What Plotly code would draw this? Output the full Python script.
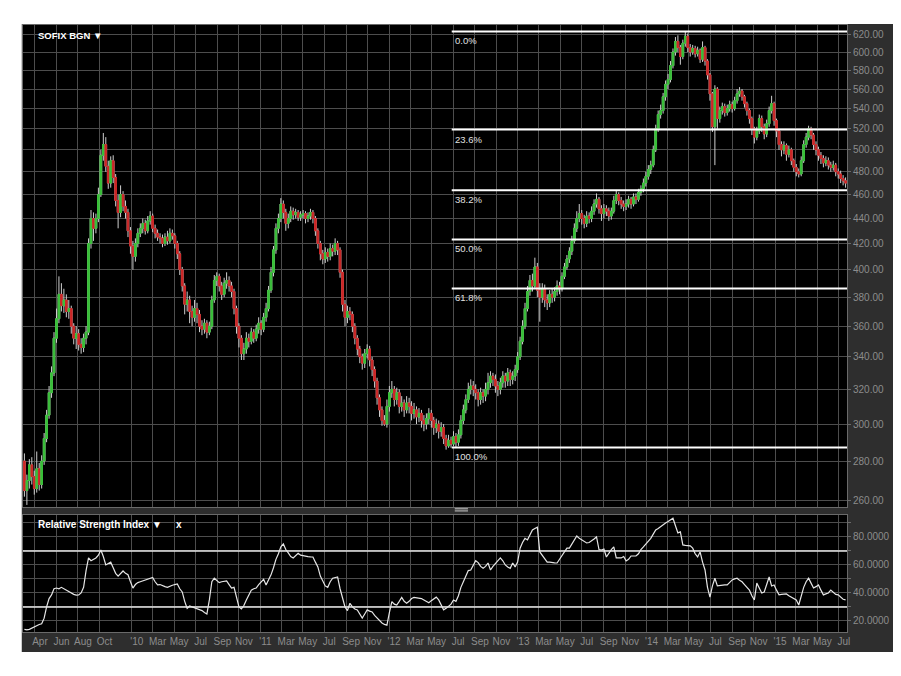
import math
import pandas as pd
import plotly.graph_objects as go

# ---------------- data (weekly candles, SOFIX BGN) ----------------
start_date = "2009-03-02"

open_ = [
    280, 265, 270, 278, 272, 266, 276, 268, 280, 292,
    305, 318, 330, 352, 365, 382, 374, 378, 370, 372,
    360, 352, 355, 348, 346, 352, 356, 420, 440, 432,
    440, 460, 495, 505, 485, 470, 490, 475, 455, 445,
    460, 450, 445, 430, 418, 410, 420, 428, 432, 436,
    430, 438, 442, 432, 428, 425, 424, 420, 425, 422,
    428, 426, 420, 412, 400, 388, 375, 378, 370, 366,
    372, 368, 360, 358, 362, 356, 360, 378, 392, 395,
    388, 382, 390, 392, 388, 384, 372, 360, 352, 342,
    345, 352, 350, 356, 352, 358, 362, 358, 366, 372,
    385, 398, 415, 432, 440, 452, 445, 436, 440, 446,
    443, 445, 441, 443, 444, 440, 442, 445, 440, 430,
    420, 412, 408, 413, 410, 416, 414, 420, 415, 398,
    375, 366, 370, 368, 360, 352, 345, 340, 336, 342,
    345, 338, 332, 325, 315, 308, 302, 300, 310, 318,
    320, 314, 318, 310, 312, 308, 312, 310, 306, 308,
    304, 306, 302, 300, 303, 306, 302, 298, 300, 296,
    298, 292, 288, 291, 289, 293, 290, 294, 302, 308,
    314, 320, 322, 320, 318, 314, 318, 316, 320, 324,
    328, 326, 322, 320, 324, 328, 325, 330, 326, 328,
    332, 340, 350, 360, 372, 384, 392, 388, 402, 385,
    380, 386, 378, 376, 382, 380, 384, 388, 386, 395,
    402, 408, 414, 422, 432, 440, 444, 440, 436, 442,
    440, 446, 452, 456, 448, 444, 448, 446, 442, 446,
    455, 460, 455, 452, 450, 452, 456, 452, 458, 456,
    462, 465, 470, 476, 482, 486, 500, 520, 534, 538,
    552, 565, 570, 585, 600, 612, 605, 595, 610, 618,
    605, 600, 604, 598, 602, 592, 605, 590, 575, 555,
    522, 560, 530, 538, 542, 536, 540, 544, 540, 548,
    555, 558, 552, 545, 538, 530, 520, 512, 518, 530,
    522, 515, 525, 538, 545, 528, 518, 505, 500, 504,
    496, 500, 490, 484, 480, 478, 490, 505, 512, 520,
    514, 505, 500, 495, 492, 488, 490, 486, 484, 486,
    480, 478, 474, 472,
]

high = [
    284, 273, 281, 282, 275, 285, 279, 283, 295, 308,
    322, 334, 356, 372, 395, 390, 386, 382, 378, 374,
    362, 360, 358, 352, 355, 360, 424, 447, 445, 444,
    466, 500, 516, 512, 490, 494, 495, 478, 460, 468,
    463, 455, 448, 433, 422, 424, 432, 436, 440, 439,
    442, 446, 444, 435, 431, 428, 427, 428, 430, 432,
    431, 428, 422, 414, 402, 390, 384, 381, 374, 378,
    376, 371, 364, 365, 364, 363, 381, 396, 398, 397,
    391, 394, 398, 395, 391, 386, 374, 362, 354, 349,
    356, 355, 359, 358, 361, 366, 364, 369, 376, 388,
    402, 418, 436, 444, 457, 455, 448, 444, 450, 449,
    448, 447, 446, 447, 446, 445, 448, 447, 442, 432,
    422, 415, 417, 416, 420, 419, 424, 422, 417, 400,
    378, 374, 373, 370, 362, 354, 347, 342, 345, 348,
    347, 340, 334, 327, 317, 310, 305, 314, 322, 325,
    322, 321, 320, 316, 314, 316, 315, 313, 312, 310,
    309, 308, 305, 306, 309, 308, 304, 303, 302, 301,
    300, 294, 294, 293, 296, 295, 297, 305, 311, 317,
    324, 326, 325, 323, 320, 321, 320, 324, 330, 331,
    330, 329, 325, 327, 331, 330, 333, 332, 331, 335,
    343, 353, 364, 376, 388, 396, 397, 409, 405, 390,
    390, 389, 382, 385, 386, 387, 392, 391, 398, 405,
    411, 417, 426, 436, 446, 452, 447, 443, 446, 445,
    450, 456, 461, 458, 451, 452, 451, 449, 449, 459,
    464, 462, 458, 455, 456, 459, 458, 461, 461, 465,
    468, 474, 480, 486, 490, 504, 524, 538, 544, 556,
    569, 576, 590, 604, 617, 619, 608, 614, 624, 621,
    609, 608, 607, 606, 604, 612, 607, 592, 577, 557,
    564, 562, 542, 546, 545, 544, 548, 547, 552, 560,
    562, 560, 554, 547, 540, 532, 522, 522, 534, 533,
    525, 529, 542, 553, 547, 530, 520, 508, 508, 506,
    504, 502, 492, 487, 483, 494, 509, 516, 523, 522,
    516, 508, 503, 498, 495, 494, 493, 489, 490, 488,
    483, 481, 477, 475,
]

low = [
    262, 258, 266, 268, 263, 264, 265, 266, 278, 290,
    303, 315, 328, 349, 362, 370, 369, 366, 365, 355,
    348, 345, 344, 342, 343, 348, 354, 416, 422, 428,
    437, 458, 490, 480, 465, 466, 470, 450, 432, 441,
    446, 440, 425, 412, 400, 406, 417, 425, 428, 427,
    428, 435, 429, 424, 422, 420, 417, 418, 419, 420,
    423, 416, 408, 396, 384, 368, 370, 362, 360, 363,
    362, 356, 354, 355, 352, 354, 358, 376, 388, 384,
    378, 380, 386, 384, 380, 368, 355, 346, 338, 338,
    342, 346, 348, 349, 350, 355, 354, 356, 363, 370,
    383, 395, 412, 428, 437, 440, 430, 432, 437, 439,
    440, 438, 438, 440, 436, 437, 439, 436, 426, 416,
    407, 404, 405, 406, 407, 410, 411, 411, 394, 370,
    360, 362, 364, 356, 348, 341, 336, 332, 333, 339,
    334, 328, 321, 311, 304, 299, 299, 298, 307, 315,
    310, 311, 306, 307, 304, 306, 306, 302, 303, 300,
    301, 298, 296, 297, 300, 298, 294, 295, 292, 293,
    289, 286, 287, 287, 288, 287, 288, 292, 300, 306,
    312, 317, 316, 314, 310, 311, 312, 313, 317, 321,
    322, 318, 316, 317, 321, 321, 322, 322, 323, 325,
    330, 338, 348, 358, 370, 381, 384, 386, 380, 363,
    376, 373, 371, 373, 376, 377, 381, 382, 384, 393,
    400, 405, 411, 420, 429, 437, 435, 432, 433, 436,
    437, 443, 449, 444, 438, 440, 442, 438, 439, 444,
    452, 451, 448, 446, 447, 449, 448, 450, 452, 454,
    459, 462, 467, 473, 478, 484, 498, 517, 530, 535,
    548, 560, 567, 582, 596, 600, 586, 592, 606, 600,
    595, 597, 594, 595, 588, 589, 585, 570, 548, 517,
    486, 520, 526, 534, 532, 533, 537, 536, 538, 545,
    552, 548, 541, 533, 525, 514, 506, 509, 515, 517,
    510, 512, 522, 535, 523, 512, 500, 494, 496, 490,
    493, 486, 480, 476, 475, 476, 488, 502, 509, 510,
    500, 495, 490, 487, 484, 485, 482, 480, 481, 476,
    474, 470, 468, 466,
]

close = [
    265, 270, 278, 272, 266, 276, 268, 280, 292, 305,
    318, 330, 352, 365, 382, 374, 378, 370, 372, 360,
    352, 355, 348, 346, 352, 356, 420, 440, 432, 440,
    460, 495, 505, 485, 470, 490, 475, 455, 445, 460,
    450, 445, 430, 418, 410, 420, 428, 432, 436, 430,
    438, 442, 432, 428, 425, 424, 420, 425, 422, 428,
    426, 420, 412, 400, 388, 375, 378, 370, 366, 372,
    368, 360, 358, 362, 356, 360, 378, 392, 395, 388,
    382, 390, 392, 388, 384, 372, 360, 352, 342, 345,
    352, 350, 356, 352, 358, 362, 358, 366, 372, 385,
    398, 415, 432, 440, 452, 445, 436, 440, 446, 443,
    445, 441, 443, 444, 440, 442, 445, 440, 430, 420,
    412, 408, 413, 410, 416, 414, 420, 415, 398, 375,
    366, 370, 368, 360, 352, 345, 340, 336, 342, 345,
    338, 332, 325, 315, 308, 302, 300, 310, 318, 320,
    314, 318, 310, 312, 308, 312, 310, 306, 308, 304,
    306, 302, 300, 303, 306, 302, 298, 300, 296, 298,
    292, 288, 291, 289, 293, 290, 294, 302, 308, 314,
    320, 322, 320, 318, 314, 318, 316, 320, 324, 328,
    326, 322, 320, 324, 328, 325, 330, 326, 328, 332,
    340, 350, 360, 372, 384, 392, 388, 402, 385, 380,
    386, 378, 376, 382, 380, 384, 388, 386, 395, 402,
    408, 414, 422, 432, 440, 444, 440, 436, 442, 440,
    446, 452, 456, 448, 444, 448, 446, 442, 446, 455,
    460, 455, 452, 450, 452, 456, 452, 458, 456, 462,
    465, 470, 476, 482, 486, 500, 520, 534, 538, 552,
    565, 570, 585, 600, 612, 605, 595, 610, 618, 605,
    600, 604, 598, 602, 592, 605, 590, 575, 555, 522,
    560, 530, 538, 542, 536, 540, 544, 540, 548, 555,
    558, 552, 545, 538, 530, 520, 512, 518, 530, 522,
    515, 525, 538, 545, 528, 518, 505, 500, 504, 496,
    500, 490, 484, 480, 478, 490, 505, 512, 520, 514,
    505, 500, 495, 492, 488, 490, 486, 484, 486, 480,
    478, 474, 472, 470,
]

rsi = [
    14, 13.6, 14, 15, 16, 17, 17.5, 18, 22, 30,
    36, 38.6, 43, 43.5, 43, 44, 43, 41.5, 40.5, 39.5,
    39, 38.5, 38.6, 40, 44, 56, 65, 63, 64, 65,
    67, 70.7, 66, 60, 61, 62, 58, 54, 52, 54,
    55.7, 54, 53, 48, 43.5, 46, 47.4, 48, 48.5, 49,
    50, 50.5, 51, 48, 45.7, 46, 45, 44.5, 44, 45,
    45.5, 46, 46.4, 43, 40.7, 34, 29, 30.7, 30, 29.5,
    29, 28, 27.4, 26, 25, 35, 48, 50.5, 48.6, 47.4,
    48, 48.5, 48.6, 46, 43.5, 44, 37, 30, 28.6, 31,
    35, 38, 42, 43, 43.5, 46, 48, 49.8, 45.7, 49,
    52.9, 58, 64, 68, 73, 75, 71, 68.6, 66, 65,
    67, 68.3, 67, 66.5, 66.4, 66, 65.8, 65.7, 62, 58.6,
    52, 48, 45, 44, 48, 50.5, 51, 51.4, 43, 37,
    30, 27.4, 32.6, 30, 28.5, 27.9, 25, 22, 25, 27.9,
    27, 26.4, 24, 22, 20, 18.5, 17.5, 17, 26, 33.8,
    32, 31.4, 34, 36.8, 34, 32.6, 34, 36, 36.8, 36.5,
    36.2, 36, 35, 34, 33, 34.5, 36, 37, 35, 31,
    27.9, 29, 30.7, 32, 35, 34, 38, 44, 48, 52,
    56, 56.4, 60, 63, 61.7, 59, 57.6, 59, 61.4, 56.4,
    59, 61, 63, 65, 63, 60, 58.5, 57.6, 61.4, 58.6,
    62, 72, 76, 79, 77.9, 82, 85, 86, 87, 69.3,
    67, 64, 62, 62, 62, 61.5, 61.4, 64, 67, 70,
    72, 72, 75, 78, 80.7, 79, 77.9, 77, 75.7, 76,
    77, 78.5, 80, 71, 70.7, 71.4, 65.7, 68.6, 71, 72.9,
    65, 65, 65, 66, 62.9, 64, 66.4, 66.4, 66.4, 68,
    71, 72.9, 75, 77, 79, 82, 85, 86, 87.5, 88.6,
    90, 91, 92, 93.4, 88, 82.9, 83.6, 74.3, 74, 73.8,
    73.6, 72, 68, 65.7, 69.3, 62, 56.4, 44, 37, 45,
    50.5, 45, 45.3, 45.7, 45.7, 45.7, 47.5, 49.3, 50, 50.5,
    49, 48, 46, 44, 42, 38, 35, 47, 43, 40,
    40.7, 46, 51.4, 45, 45.7, 42, 38.6, 39, 39.2, 39.3,
    38, 37, 36, 35, 31.4, 38, 44, 48, 50.5, 47,
    43.5, 44.5, 45.7, 42, 38.6, 39.3, 40, 42, 40.5, 39,
    38.6, 37, 35.5, 35,
]

price_ticks = [260, 280, 300, 320, 340, 360, 380, 400, 420, 440,
               460, 480, 500, 520, 540, 560, 580, 600, 620]
rsi_ticks = [20, 30, 40, 50, 60, 70, 80, 90]
rsi_tick_labels = ["20.0000", "", "40.0000", "", "60.0000", "", "80.0000", ""]
rsi_bands = [70, 30]

month_ticks = [
    "2009-04-01", "2009-06-01", "2009-08-01", "2009-10-01",
    "2010-01-01", "2010-03-01", "2010-05-01", "2010-07-01", "2010-09-01", "2010-11-01",
    "2011-01-01", "2011-03-01", "2011-05-01", "2011-07-01", "2011-09-01", "2011-11-01",
    "2012-01-01", "2012-03-01", "2012-05-01", "2012-07-01", "2012-09-01", "2012-11-01",
    "2013-01-01", "2013-03-01", "2013-05-01", "2013-07-01", "2013-09-01", "2013-11-01",
    "2014-01-01", "2014-03-01", "2014-05-01", "2014-07-01", "2014-09-01", "2014-11-01",
    "2015-01-01", "2015-03-01", "2015-05-01", "2015-07-01",
]
month_labels = [
    "Apr", "Jun", "Aug", "Oct",
    "'10", "Mar", "May", "Jul", "Sep", "Nov",
    "'11", "Mar", "May", "Jul", "Sep", "Nov",
    "'12", "Mar", "May", "Jul", "Sep", "Nov",
    "'13", "Mar", "May", "Jul", "Sep", "Nov",
    "'14", "Mar", "May", "Jul", "Sep", "Nov",
    "'15", "Mar", "May", "Jul",
]

fib_high = 623.5
fib_low = 287.2
fib_start = "2012-06-27"
fib_ratios = [0.0, 0.236, 0.382, 0.5, 0.618, 1.0]
fib_labels = ["0.0%", "23.6%", "38.2%", "50.0%", "61.8%", "100.0%"]

x_range = ["2009-02-26", "2015-07-24"]
price_range = [257, 631]
rsi_range = [12.1, 95.7]

# ---------------- styling ----------------
FONT = "Liberation Sans, Arial, sans-serif"
FRAME = "#2e2e2e"
GRID = "#4d4d4d"
TICK_COLOR = "#8c8c8c"
UP = "#38bf38"
DOWN = "#cc2626"
WICK = "#cfcfcf"

dates = pd.date_range(start_date, periods=len(close), freq="7D")
body_hi = [max(o, c) for o, c in zip(open_, close)]
body_lo = [min(o, c) for o, c in zip(open_, close)]

fig = go.Figure()

# wicks (light grey), then coloured bodies
fig.add_trace(go.Candlestick(
    x=dates, open=open_, high=high, low=low, close=close,
    increasing=dict(line=dict(color=WICK, width=1), fillcolor="rgba(0,0,0,0)"),
    decreasing=dict(line=dict(color=WICK, width=1), fillcolor="rgba(0,0,0,0)"),
    whiskerwidth=0, showlegend=False, hoverinfo="skip", xaxis="x", yaxis="y"))
fig.add_trace(go.Candlestick(
    x=dates, open=open_, high=body_hi, low=body_lo, close=close,
    increasing=dict(line=dict(color=UP, width=1), fillcolor=UP),
    decreasing=dict(line=dict(color=DOWN, width=1), fillcolor=DOWN),
    whiskerwidth=0, showlegend=False, hoverinfo="skip", xaxis="x", yaxis="y"))

# Fibonacci retracement (in log space, as drawn on the log chart)
lh, ll = math.log10(fib_high), math.log10(fib_low)
fib_levels = [10 ** (lh - r * (lh - ll)) for r in fib_ratios]
annotations = []
for lvl, lab in zip(fib_levels, fib_labels):
    fig.add_trace(go.Scatter(x=[fib_start, x_range[1]], y=[lvl, lvl], mode="lines",
                             line=dict(color="#ffffff", width=2), showlegend=False,
                             hoverinfo="skip", xaxis="x", yaxis="y"))
    annotations.append(dict(x=fib_start, y=math.log10(lvl), xref="x", yref="y",
                            text=lab, showarrow=False, xanchor="left", yanchor="top",
                            xshift=1, yshift=-2,
                            font=dict(family=FONT, size=9.5, color="#e0e0e0")))

# RSI panel
for b in rsi_bands:
    fig.add_trace(go.Scatter(x=x_range, y=[b, b], mode="lines",
                             line=dict(color="#e8e8e8", width=1.5), showlegend=False,
                             hoverinfo="skip", xaxis="x2", yaxis="y2"))
fig.add_trace(go.Scatter(x=dates, y=rsi, mode="lines",
                         line=dict(color="#e6e6e6", width=1.2), showlegend=False,
                         hoverinfo="skip", xaxis="x2", yaxis="y2"))

annotations += [
    dict(x=0.016, y=1, xref="paper", yref="paper", text="<b>SOFIX BGN ▼</b>",
         showarrow=False, xanchor="left", yanchor="top", yshift=-3,
         font=dict(family=FONT, size=9.5, color="#ffffff")),
    dict(x=0.016, y=0.1928, xref="paper", yref="paper",
         text="<b>Relative Strength Index ▼</b>",
         showarrow=False, xanchor="left", yanchor="top", yshift=-2,
         font=dict(family=FONT, size=10, color="#ffffff")),
    dict(x=0.183, y=0.1928, xref="paper", yref="paper", text="<b>x</b>",
         showarrow=False, xanchor="left", yanchor="top", yshift=-2,
         font=dict(family=FONT, size=10, color="#ffffff")),
]

# frame: dark grey paper, white outside the chart box
W = "#ffffff"
shapes = [
    dict(type="rect", xref="paper", yref="paper", x0=-0.1, x1=-0.0015, y0=-0.2, y1=1.2,
         fillcolor=W, line=dict(width=0), layer="below"),
    dict(type="rect", xref="paper", yref="paper", x0=-0.1, x1=1.2, y0=1.0015, y1=1.2,
         fillcolor=W, line=dict(width=0), layer="below"),
    dict(type="rect", xref="paper", yref="paper", x0=1.057, x1=1.2, y0=-0.2, y1=1.2,
         fillcolor=W, line=dict(width=0), layer="below"),
    dict(type="rect", xref="paper", yref="paper", x0=-0.1, x1=1.2, y0=-0.2, y1=-0.033,
         fillcolor=W, line=dict(width=0), layer="below"),
    # splitter handle
    dict(type="rect", xref="paper", yref="paper", x0=0.524, x1=0.540, y0=0.1985, y1=0.2005,
         fillcolor="#b0b0b0", line=dict(width=0), layer="above"),
    dict(type="rect", xref="paper", yref="paper", x0=0.524, x1=0.540, y0=0.2020, y1=0.2040,
         fillcolor="#b0b0b0", line=dict(width=0), layer="above"),
]

xcommon = dict(type="date", range=x_range, tickvals=month_ticks, ticktext=month_labels,
               showgrid=True, gridcolor=GRID, gridwidth=1, zeroline=False,
               showline=True, linecolor="#6a6a6a", linewidth=1, mirror=True, ticks="")
ycommon = dict(side="right", showgrid=True, gridcolor=GRID, gridwidth=1, zeroline=False,
               showline=True, linecolor="#6a6a6a", linewidth=1, mirror=True,
               ticks="outside", ticklen=3, tickcolor="#6a6a6a",
               tickfont=dict(family=FONT, size=10, color=TICK_COLOR))

# the page body adds an 8px offset; margins are chosen so the plot lands where the
# reference has it (plot area 23..847 x 25..632 in the window)
fig.update_layout(
    width=901, height=676,
    margin=dict(l=15, r=62, t=17, b=52),
    paper_bgcolor=FRAME, plot_bgcolor="#000000",
    showlegend=False, hovermode=False,
    boxgap=0.25, boxgroupgap=0.1,
    font=dict(family=FONT),
    xaxis=dict(domain=[0, 1], anchor="y", showticklabels=False,
               rangeslider=dict(visible=False), **xcommon),
    xaxis2=dict(domain=[0, 1], anchor="y2", matches="x", showticklabels=True,
                ticklabelshift=5,
                tickfont=dict(family=FONT, size=10, color=TICK_COLOR), **xcommon),
    yaxis=dict(domain=[0.2059, 1], anchor="x", type="log",
               range=[math.log10(price_range[0]), math.log10(price_range[1])],
               tickvals=price_ticks, ticktext=[f"{v:.2f}" for v in price_ticks], **ycommon),
    yaxis2=dict(domain=[0, 0.1928], anchor="x2", range=rsi_range,
                tickvals=rsi_ticks, ticktext=rsi_tick_labels, **ycommon),
    annotations=annotations,
    shapes=shapes,
)

fig.write_html("out.html")
